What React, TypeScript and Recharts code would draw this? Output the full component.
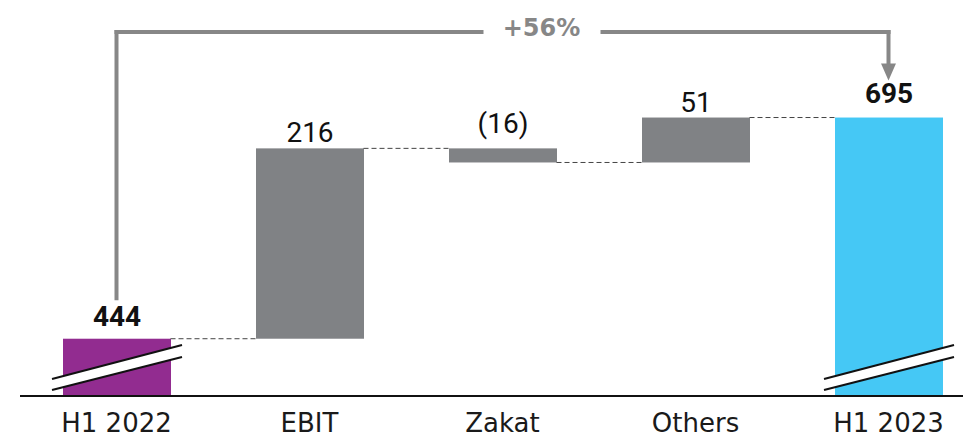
import React from 'react';
import { BarChart, Bar, XAxis, YAxis, ReferenceLine, LabelList, Cell } from 'recharts';

const categories = ['H1 2022', 'EBIT', 'Zakat', 'Others', 'H1 2023'];
const values = [444, 216, -16, 51, 695];
const isTotal = [true, false, false, false, true];
const valueLabels = ['444', '216', '(16)', '51', '695'];
const growthLabel = '+56%';

const AXIS_MIN = 379;
const AXIS_MAX = 800;
const BRACKET_Y = 792;
const BRACKET_START = 490;
const ARROW_TIP = 737;

const BAR_SIZE = 108;
const LABEL_GAPS = [13, 6, 15, 6, 15];
const COLORS = ['#922C90', '#808285', '#808285', '#808285', '#45C8F5'];
const GRAY = '#878787';

let running = 0;
const data = categories.map((name, i) => {
  let range: number[];
  if (isTotal[i]) {
    range = [AXIS_MIN, values[i]];
    running = values[i];
  } else {
    const start = running;
    running += values[i];
    range = [Math.min(start, running), Math.max(start, running)];
  }
  return { name, range, level: running, label: valueLabels[i] };
});

const connectors = data.slice(0, -1).map((d, i) => ({
  from: d.name,
  to: data[i + 1].name,
  y: d.level,
}));

const BarShape = (props: any) => {
  const { x, y, width, height, fill, index } = props;
  const top = Math.min(y, y + height);
  const h = Math.abs(height);
  const bottom = top + h;
  const total = isTotal[index];
  const lx = x - 11;
  const rx = x + width + 11;
  return (
    <g>
      <rect x={x} y={top} width={width} height={h} fill={fill} />
      {total && (
        <g>
          <polygon
            points={`${lx},${bottom - 17} ${rx},${bottom - 51} ${rx},${bottom - 39} ${lx},${bottom - 6}`}
            fill="#fff"
          />
          <line x1={lx} y1={bottom - 17} x2={rx} y2={bottom - 51} stroke="#111" strokeWidth={2} />
          <line x1={lx} y1={bottom - 6} x2={rx} y2={bottom - 39} stroke="#111" strokeWidth={2} />
        </g>
      )}
    </g>
  );
};

const ConnectorShape = (p: any) => {
  const { x1, x2, y1 } = p;
  const a = Math.min(x1, x2) + BAR_SIZE / 2;
  const b = Math.max(x1, x2) - BAR_SIZE / 2;
  return <line x1={a} y1={y1} x2={b} y2={y1} stroke="#444" strokeWidth={1} strokeDasharray="5 3" />;
};

const ValueLabel = (props: any) => {
  const { x, y, width, height, value, index } = props;
  const top = Math.min(y, y + height);
  return (
    <text
      x={x + width / 2}
      y={top - LABEL_GAPS[index]}
      textAnchor="middle"
      fontFamily="Roboto"
      fontSize={28}
      fontWeight={isTotal[index] ? 700 : 400}
      fill="#111"
    >
      {value}
    </text>
  );
};

const GrowthLabel = (props: any) => {
  const vb = props.viewBox || {};
  const cx = vb.x + vb.width / 2 + 39;
  const cy = vb.y;
  return (
    <g>
      <rect x={cx - 58} y={cy - 6} width={117} height={12} fill="#fff" />
      <text
        x={cx}
        y={cy + 4}
        textAnchor="middle"
        fontFamily="DejaVu Sans"
        fontWeight={700}
        fontSize={24}
        fill={GRAY}
      >
        {growthLabel}
      </text>
    </g>
  );
};

const ArrowShape = (p: any) => {
  const { x1, y1, y2 } = p;
  const top = Math.min(y1, y2);
  const tip = Math.max(y1, y2);
  return (
    <g>
      <line x1={x1} y1={top} x2={x1} y2={tip - 17} stroke={GRAY} strokeWidth={4} strokeLinecap="square" />
      <polygon points={`${x1 - 7.5},${tip - 17} ${x1 + 7.5},${tip - 17} ${x1},${tip}`} fill={GRAY} />
    </g>
  );
};

export default function App() {
  return (
    <div style={{ position: 'absolute', left: 0, top: 0, width: 963, height: 438, overflow: 'hidden', background: '#fff' }}>
      <BarChart
        width={985}
        height={438}
        data={data}
        margin={{ top: 25, right: 0, bottom: 0, left: 20 }}
        barSize={BAR_SIZE}
      >
        <XAxis
          dataKey="name"
          height={42}
          tickLine={false}
          tickSize={8}
          tickMargin={10}
          axisLine={{ stroke: '#111', strokeWidth: 2 }}
          tick={{ fontFamily: 'DejaVu Sans', fontSize: 26, fill: '#1a1a1a' }}
          interval={0}
        />
        <YAxis hide domain={[AXIS_MIN, AXIS_MAX]} allowDataOverflow />
        {connectors.map((c, i) => (
          <ReferenceLine
            key={`c${i}`}
            segment={[{ x: c.from, y: c.y }, { x: c.to, y: c.y }]}
            ifOverflow="visible"
            shape={<ConnectorShape />}
          />
        ))}
        <Bar dataKey="range" isAnimationActive={false} shape={<BarShape />}>
          {data.map((d, i) => (
            <Cell key={d.name} fill={COLORS[i]} />
          ))}
          <LabelList dataKey="label" content={<ValueLabel />} />
        </Bar>
        <ReferenceLine
          segment={[{ x: categories[0], y: BRACKET_START }, { x: categories[0], y: BRACKET_Y }]}
          stroke={GRAY}
          strokeWidth={4}
          strokeLinecap="square"
          ifOverflow="visible"
        />
        <ReferenceLine
          segment={[{ x: categories[0], y: BRACKET_Y }, { x: categories[4], y: BRACKET_Y }]}
          stroke={GRAY}
          strokeWidth={4}
          strokeLinecap="square"
          ifOverflow="visible"
          label={<GrowthLabel />}
        />
        <ReferenceLine
          segment={[{ x: categories[4], y: BRACKET_Y }, { x: categories[4], y: ARROW_TIP }]}
          ifOverflow="visible"
          shape={<ArrowShape />}
        />
      </BarChart>
    </div>
  );
}
